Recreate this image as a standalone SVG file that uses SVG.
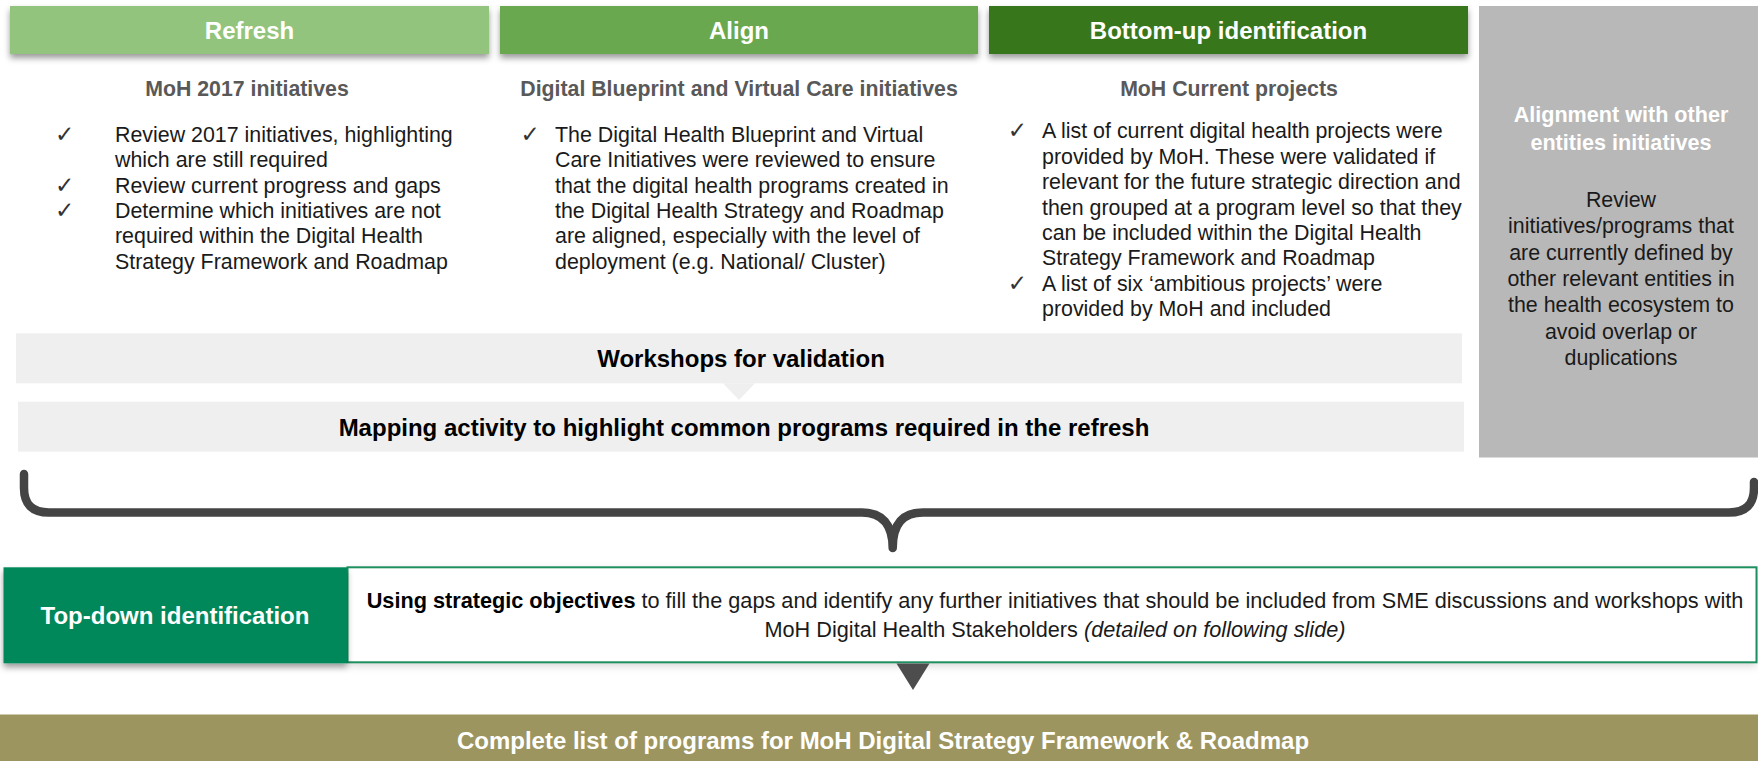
<svg xmlns="http://www.w3.org/2000/svg" width="1758" height="761" viewBox="0 0 1758 761">
  <style>
    text { font-family: "Liberation Sans", Arial, sans-serif; }
    .hdr { font-weight: bold; font-size: 24px; fill: #ffffff; text-anchor: middle; }
    .sub { font-weight: bold; font-size: 21.3px; fill: #595959; text-anchor: middle; }
    .body { font-size: 21.4px; fill: #1a1a1a; }
    .chk { font-family: "DejaVu Sans", sans-serif; font-size: 23px; fill: #333333; }
    .gbody { font-size: 21.4px; fill: #1a1a1a; text-anchor: middle; }
    .gtitle { font-weight: bold; font-size: 21.6px; fill: #ffffff; text-anchor: middle; }
    .bar { font-weight: bold; font-size: 24px; fill: #000000; text-anchor: middle; }
    .final { font-weight: bold; font-size: 24px; fill: #ffffff; text-anchor: middle; }
    .desc { font-size: 21.7px; fill: #1a1a1a; text-anchor: middle; }
    .light { fill: #efefef; }
  </style>
  <defs>
    <filter id="shadow" x="-5%" y="-30%" width="110%" height="180%">
      <feDropShadow dx="0" dy="4" stdDeviation="3" flood-color="#000000" flood-opacity="0.4"/>
    </filter>
    <filter id="softshadow" x="-5%" y="-30%" width="110%" height="180%">
      <feDropShadow dx="0" dy="3" stdDeviation="4" flood-color="#000000" flood-opacity="0.18"/>
    </filter>
  </defs>

  <rect x="0" y="0" width="1758" height="761" fill="#ffffff"/>

  <!-- Gray panel -->
  <g id="panel-alignment">
    <rect x="1479" y="6" width="279" height="451.5" fill="#b8b8b8"/>
    <text class="gtitle" x="1621" y="121.7">Alignment with other</text>
    <text class="gtitle" x="1621" y="150">entities initiatives</text>
    <text class="gbody" x="1621" y="207">Review</text>
    <text class="gbody" x="1621" y="233.3">initiatives/programs that</text>
    <text class="gbody" x="1621" y="259.6">are currently defined by</text>
    <text class="gbody" x="1621" y="285.9">other relevant entities in</text>
    <text class="gbody" x="1621" y="312.2">the health ecosystem to</text>
    <text class="gbody" x="1621" y="338.5">avoid overlap or</text>
    <text class="gbody" x="1621" y="364.8">duplications</text>
  </g>

  <!-- Header bars -->
  <g id="header-refresh">
    <rect x="10" y="6" width="479" height="48" fill="#93c47d" filter="url(#shadow)"/>
    <text class="hdr" x="249.5" y="38.6">Refresh</text>
  </g>
  <g id="header-align">
    <rect x="500" y="6" width="478" height="48" fill="#6aa84f" filter="url(#shadow)"/>
    <text class="hdr" x="739" y="38.6">Align</text>
  </g>
  <g id="header-bottomup">
    <rect x="989" y="6" width="479" height="48" fill="#38761d" filter="url(#shadow)"/>
    <text class="hdr" x="1228.5" y="38.6">Bottom-up identification</text>
  </g>

  <!-- Column: Refresh -->
  <g id="col-refresh">
    <text class="sub" x="247" y="95.5">MoH 2017 initiatives</text>
    <text class="chk" x="55" y="141.7">✓</text>
    <text class="chk" x="55" y="192.5">✓</text>
    <text class="chk" x="55" y="217.9">✓</text>
    <text class="body" x="115" y="141.7">Review 2017 initiatives, highlighting</text>
    <text class="body" x="115" y="167.1">which are still required</text>
    <text class="body" x="115" y="192.5">Review current progress and gaps</text>
    <text class="body" x="115" y="217.9">Determine which initiatives are not</text>
    <text class="body" x="115" y="243.3">required within the Digital Health</text>
    <text class="body" x="115" y="268.7">Strategy Framework and Roadmap</text>
  </g>

  <!-- Column: Align -->
  <g id="col-align">
    <text class="sub" x="739" y="95.5">Digital Blueprint and Virtual Care initiatives</text>
    <text class="chk" x="520.5" y="141.7">✓</text>
    <text class="body" x="555" y="141.7">The Digital Health Blueprint and Virtual</text>
    <text class="body" x="555" y="167.1">Care Initiatives were reviewed to ensure</text>
    <text class="body" x="555" y="192.5">that the digital health programs created in</text>
    <text class="body" x="555" y="217.9">the Digital Health Strategy and Roadmap</text>
    <text class="body" x="555" y="243.3">are aligned, especially with the level of</text>
    <text class="body" x="555" y="268.7">deployment (e.g. National/ Cluster)</text>
  </g>

  <!-- Column: Bottom-up -->
  <g id="col-bottomup">
    <text class="sub" x="1229" y="96">MoH Current projects</text>
    <text class="chk" x="1007.8" y="138.3">✓</text>
    <text class="chk" x="1007.8" y="290.7">✓</text>
    <text class="body" x="1042" y="138.3">A list of current digital health projects were</text>
    <text class="body" x="1042" y="163.7">provided by MoH. These were validated if</text>
    <text class="body" x="1042" y="189.1">relevant for the future strategic direction and</text>
    <text class="body" x="1042" y="214.5">then grouped at a program level so that they</text>
    <text class="body" x="1042" y="239.9">can be included within the Digital Health</text>
    <text class="body" x="1042" y="265.3">Strategy Framework and Roadmap</text>
    <text class="body" x="1042" y="290.7">A list of six ‘ambitious projects’ were</text>
    <text class="body" x="1042" y="316.1">provided by MoH and included</text>
  </g>

  <!-- Workshops / Mapping -->
  <g id="workshops">
    <rect class="light" x="16" y="333.3" width="1446" height="50"/>
    <text class="bar" x="741" y="367">Workshops for validation</text>
  </g>
  <g id="mapping">
    <rect class="light" x="18" y="401.7" width="1446" height="50"/>
    <text class="bar" x="744" y="435.5">Mapping activity to highlight common programs required in the refresh</text>
  </g>

  <!-- Top-down identification -->
  <g id="topdown-desc">
    <rect x="347.5" y="567.3" width="1409" height="95" fill="#ffffff" filter="url(#softshadow)"/>
    <rect x="347.5" y="567.3" width="1409" height="95" fill="none" stroke="#1e9060" stroke-width="2"/>
    <text class="desc" x="1055" y="608.3"><tspan font-weight="bold" fill="#000000">Using strategic objectives</tspan> to fill the gaps and identify any further initiatives that should be included from SME discussions and workshops with</text>
    <text class="desc" x="1055" y="636.7">MoH Digital Health Stakeholders <tspan font-style="italic">(detailed on following slide)</tspan></text>
  </g>
  <g id="topdown">
    <rect x="3.5" y="567.3" width="343.5" height="96" fill="#03875a" filter="url(#shadow)"/>
    <text class="hdr" x="175" y="624">Top-down identification</text>
  </g>

  <!-- Complete list -->
  <g id="complete-list">
    <rect x="0" y="714.5" width="1758" height="46.5" fill="#9d955f"/>
    <text class="final" x="883" y="748.5">Complete list of programs for MoH Digital Strategy Framework &amp; Roadmap</text>
  </g>

  <!-- Connectors -->
  <g id="connectors">
    <polygon points="723,383.3 755,383.3 739,400" fill="#efefef"/>
    <path d="M 24 474 L 24 488 Q 24 512.5 49 512.5 L 862 512.5 C 882 512.5 892.7 524 892.7 548 C 892.7 524 903 512.5 923 512.5 L 1729 512.5 Q 1754 512.5 1754 488 L 1754 482" fill="none" stroke="#444444" stroke-width="8.5" stroke-linecap="round" stroke-linejoin="round"/>
    <polygon points="896.5,663.5 929.5,663.5 913,690" fill="#4d4d4d"/>
  </g>
</svg>
